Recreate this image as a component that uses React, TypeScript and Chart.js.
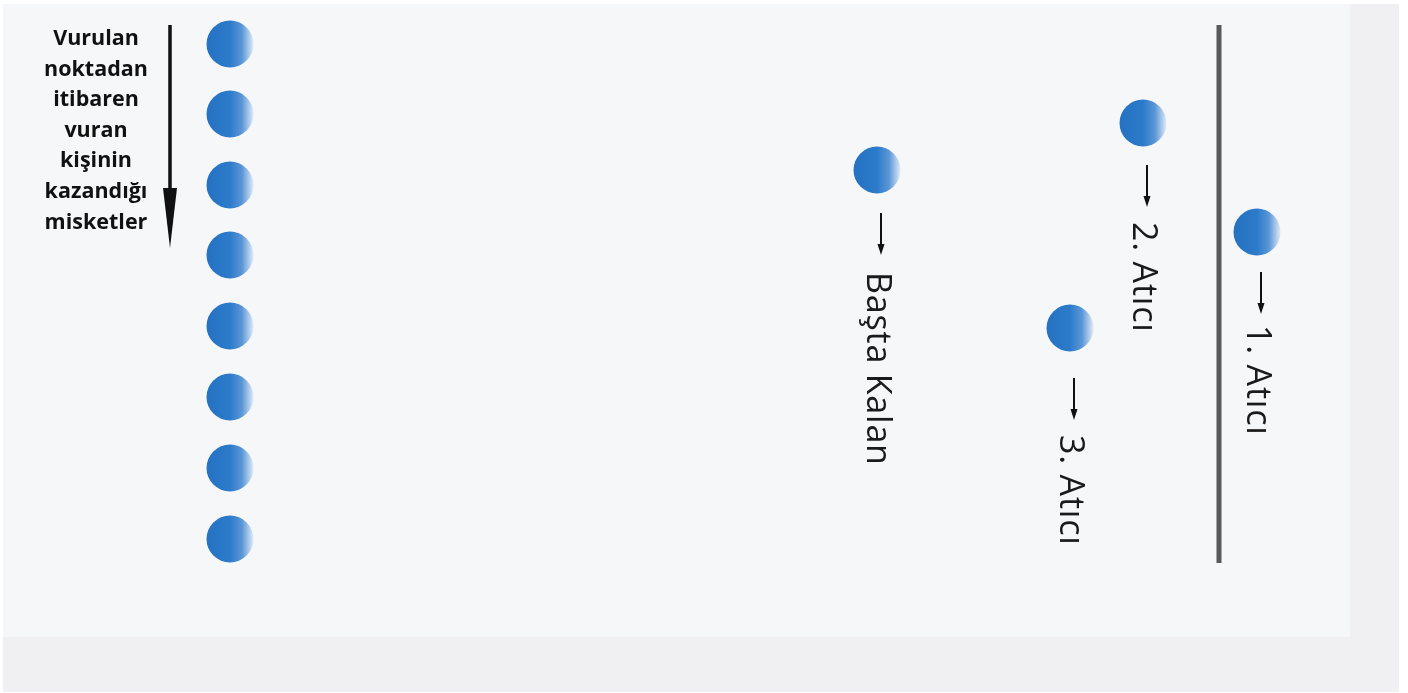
import React, { useEffect, useRef } from "react";
import { Chart, registerables } from "chart.js";

Chart.register(...registerables);

// ---- data (diagram units = page pixels) ----
const wonMarbleX = 230;
const wonMarbleY = [44, 114, 185, 255, 326, 397, 468, 539];

const playerLabels = ["Başta Kalan", "2. Atıcı", "1. Atıcı", "3. Atıcı"];
const playerX = [877, 1143, 1257, 1070];
const playerY = [170, 123, 232, 328];

const throwLineX = 1219;
const throwLineY = [25, 563];

const captionLines = ["Vurulan", "noktadan", "itibaren", "vuran", "kişinin", "kazandığı", "misketler"];
const captionArrowX = 170;
const captionArrowY = [25, 248];

// ---- layout (not data) ----
const MARBLE_R = 24;
const ARROW_GAP = [43, 42, 40, 50];
const TEXT_GAP = [102, 99, 93, 107];

function marbleImage(r: number): HTMLCanvasElement {
  const c = document.createElement("canvas");
  c.width = 2 * r;
  c.height = 2 * r;
  const ctx = c.getContext("2d")!;
  const g = ctx.createLinearGradient(0, 0, 2 * r, 0);
  g.addColorStop(0, "#2571c2");
  g.addColorStop(0.5, "#2c7bcb");
  g.addColorStop(0.75, "#5b96d6");
  g.addColorStop(1, "#e6eef8");
  ctx.fillStyle = g;
  ctx.beginPath();
  ctx.arc(r, r, r - 0.5, 0, Math.PI * 2);
  ctx.fill();
  return c;
}

function drawDownArrow(ctx: CanvasRenderingContext2D, x: number, y0: number, y1: number, lw: number, headLen: number, headW: number) {
  ctx.save();
  ctx.strokeStyle = "#111";
  ctx.fillStyle = "#111";
  ctx.lineWidth = lw;
  ctx.beginPath();
  ctx.moveTo(x, y0);
  ctx.lineTo(x, y1 - headLen + 1);
  ctx.stroke();
  ctx.beginPath();
  ctx.moveTo(x - headW / 2, y1 - headLen);
  ctx.lineTo(x + headW / 2, y1 - headLen);
  ctx.lineTo(x, y1);
  ctx.closePath();
  ctx.fill();
  ctx.restore();
}

const backgroundPlugin = {
  id: "panelBackground",
  beforeDraw(chart: any) {
    const ctx = chart.ctx;
    ctx.save();
    ctx.fillStyle = "#ffffff";
    ctx.fillRect(0, 0, chart.width, chart.height);
    ctx.fillStyle = "#f0f0f2";
    ctx.fillRect(3, 4, 1396, 688);
    ctx.fillStyle = "#f6f7f9";
    ctx.fillRect(3, 4, 1347, 633);
    ctx.restore();
  },
};

const labelPlugin = {
  id: "diagramLabels",
  afterDatasetsDraw(chart: any) {
    const ctx: CanvasRenderingContext2D = chart.ctx;
    const xs = chart.scales.x;
    const ys = chart.scales.y;

    // caption on the left
    ctx.save();
    ctx.fillStyle = "#111";
    ctx.font = "bold 21.5px 'Open Sans'";
    ctx.textAlign = "center";
    ctx.textBaseline = "alphabetic";
    captionLines.forEach((t, i) => {
      ctx.fillText(t, 96, 45 + i * 30.6);
    });
    ctx.restore();
    drawDownArrow(
      ctx,
      xs.getPixelForValue(captionArrowX),
      ys.getPixelForValue(captionArrowY[0]),
      ys.getPixelForValue(captionArrowY[1]),
      3.5,
      60,
      14
    );

    // player labels
    playerLabels.forEach((label, i) => {
      const px = xs.getPixelForValue(playerX[i]);
      const py = ys.getPixelForValue(playerY[i]);
      drawDownArrow(ctx, px + 4, py + ARROW_GAP[i], py + ARROW_GAP[i] + 42, 2, 11, 7);
      ctx.save();
      ctx.translate(px - 10, py + TEXT_GAP[i]);
      ctx.rotate(Math.PI / 2);
      ctx.fillStyle = "#1a1a1a";
      ctx.font = "34px 'Open Sans'";
      (ctx as any).letterSpacing = "0.8px";
      ctx.textAlign = "left";
      ctx.textBaseline = "alphabetic";
      ctx.fillText(label, 0, 0);
      ctx.restore();
    });
  },
};

export default function App() {
  const ref = useRef<HTMLCanvasElement | null>(null);

  useEffect(() => {
    if (!ref.current) return;
    const img = marbleImage(MARBLE_R);
    const chart = new Chart(ref.current, {
      type: "scatter",
      data: {
        datasets: [
          {
            label: "Atış çizgisi",
            data: throwLineY.map((y) => ({ x: throwLineX, y })),
            showLine: true,
            borderColor: "#58595b",
            borderWidth: 5,
            pointRadius: 0,
            borderCapStyle: "butt",
          } as any,
          {
            label: "Kazanılan misketler",
            data: wonMarbleY.map((y) => ({ x: wonMarbleX, y })),
            pointStyle: img,
            pointRadius: MARBLE_R,
          } as any,
          {
            label: "Atıcılar",
            data: playerX.map((x, i) => ({ x, y: playerY[i] })),
            pointStyle: img,
            pointRadius: MARBLE_R,
          } as any,
        ],
      },
      options: {
        animation: false,
        responsive: false,
        layout: { padding: 0, autoPadding: false } as any,
        plugins: { legend: { display: false }, tooltip: { enabled: false } },
        scales: {
          x: { type: "linear", min: 0, max: 1408, display: false },
          y: { type: "linear", min: 0, max: 693, reverse: true, display: false },
        },
      },
      plugins: [backgroundPlugin, labelPlugin],
    });
    return () => chart.destroy();
  }, []);

  return (
    <div style={{ position: "fixed", left: 0, top: 0, width: 1408, height: 693 }}>
      <canvas ref={ref} width={1408} height={693} />
    </div>
  );
}
